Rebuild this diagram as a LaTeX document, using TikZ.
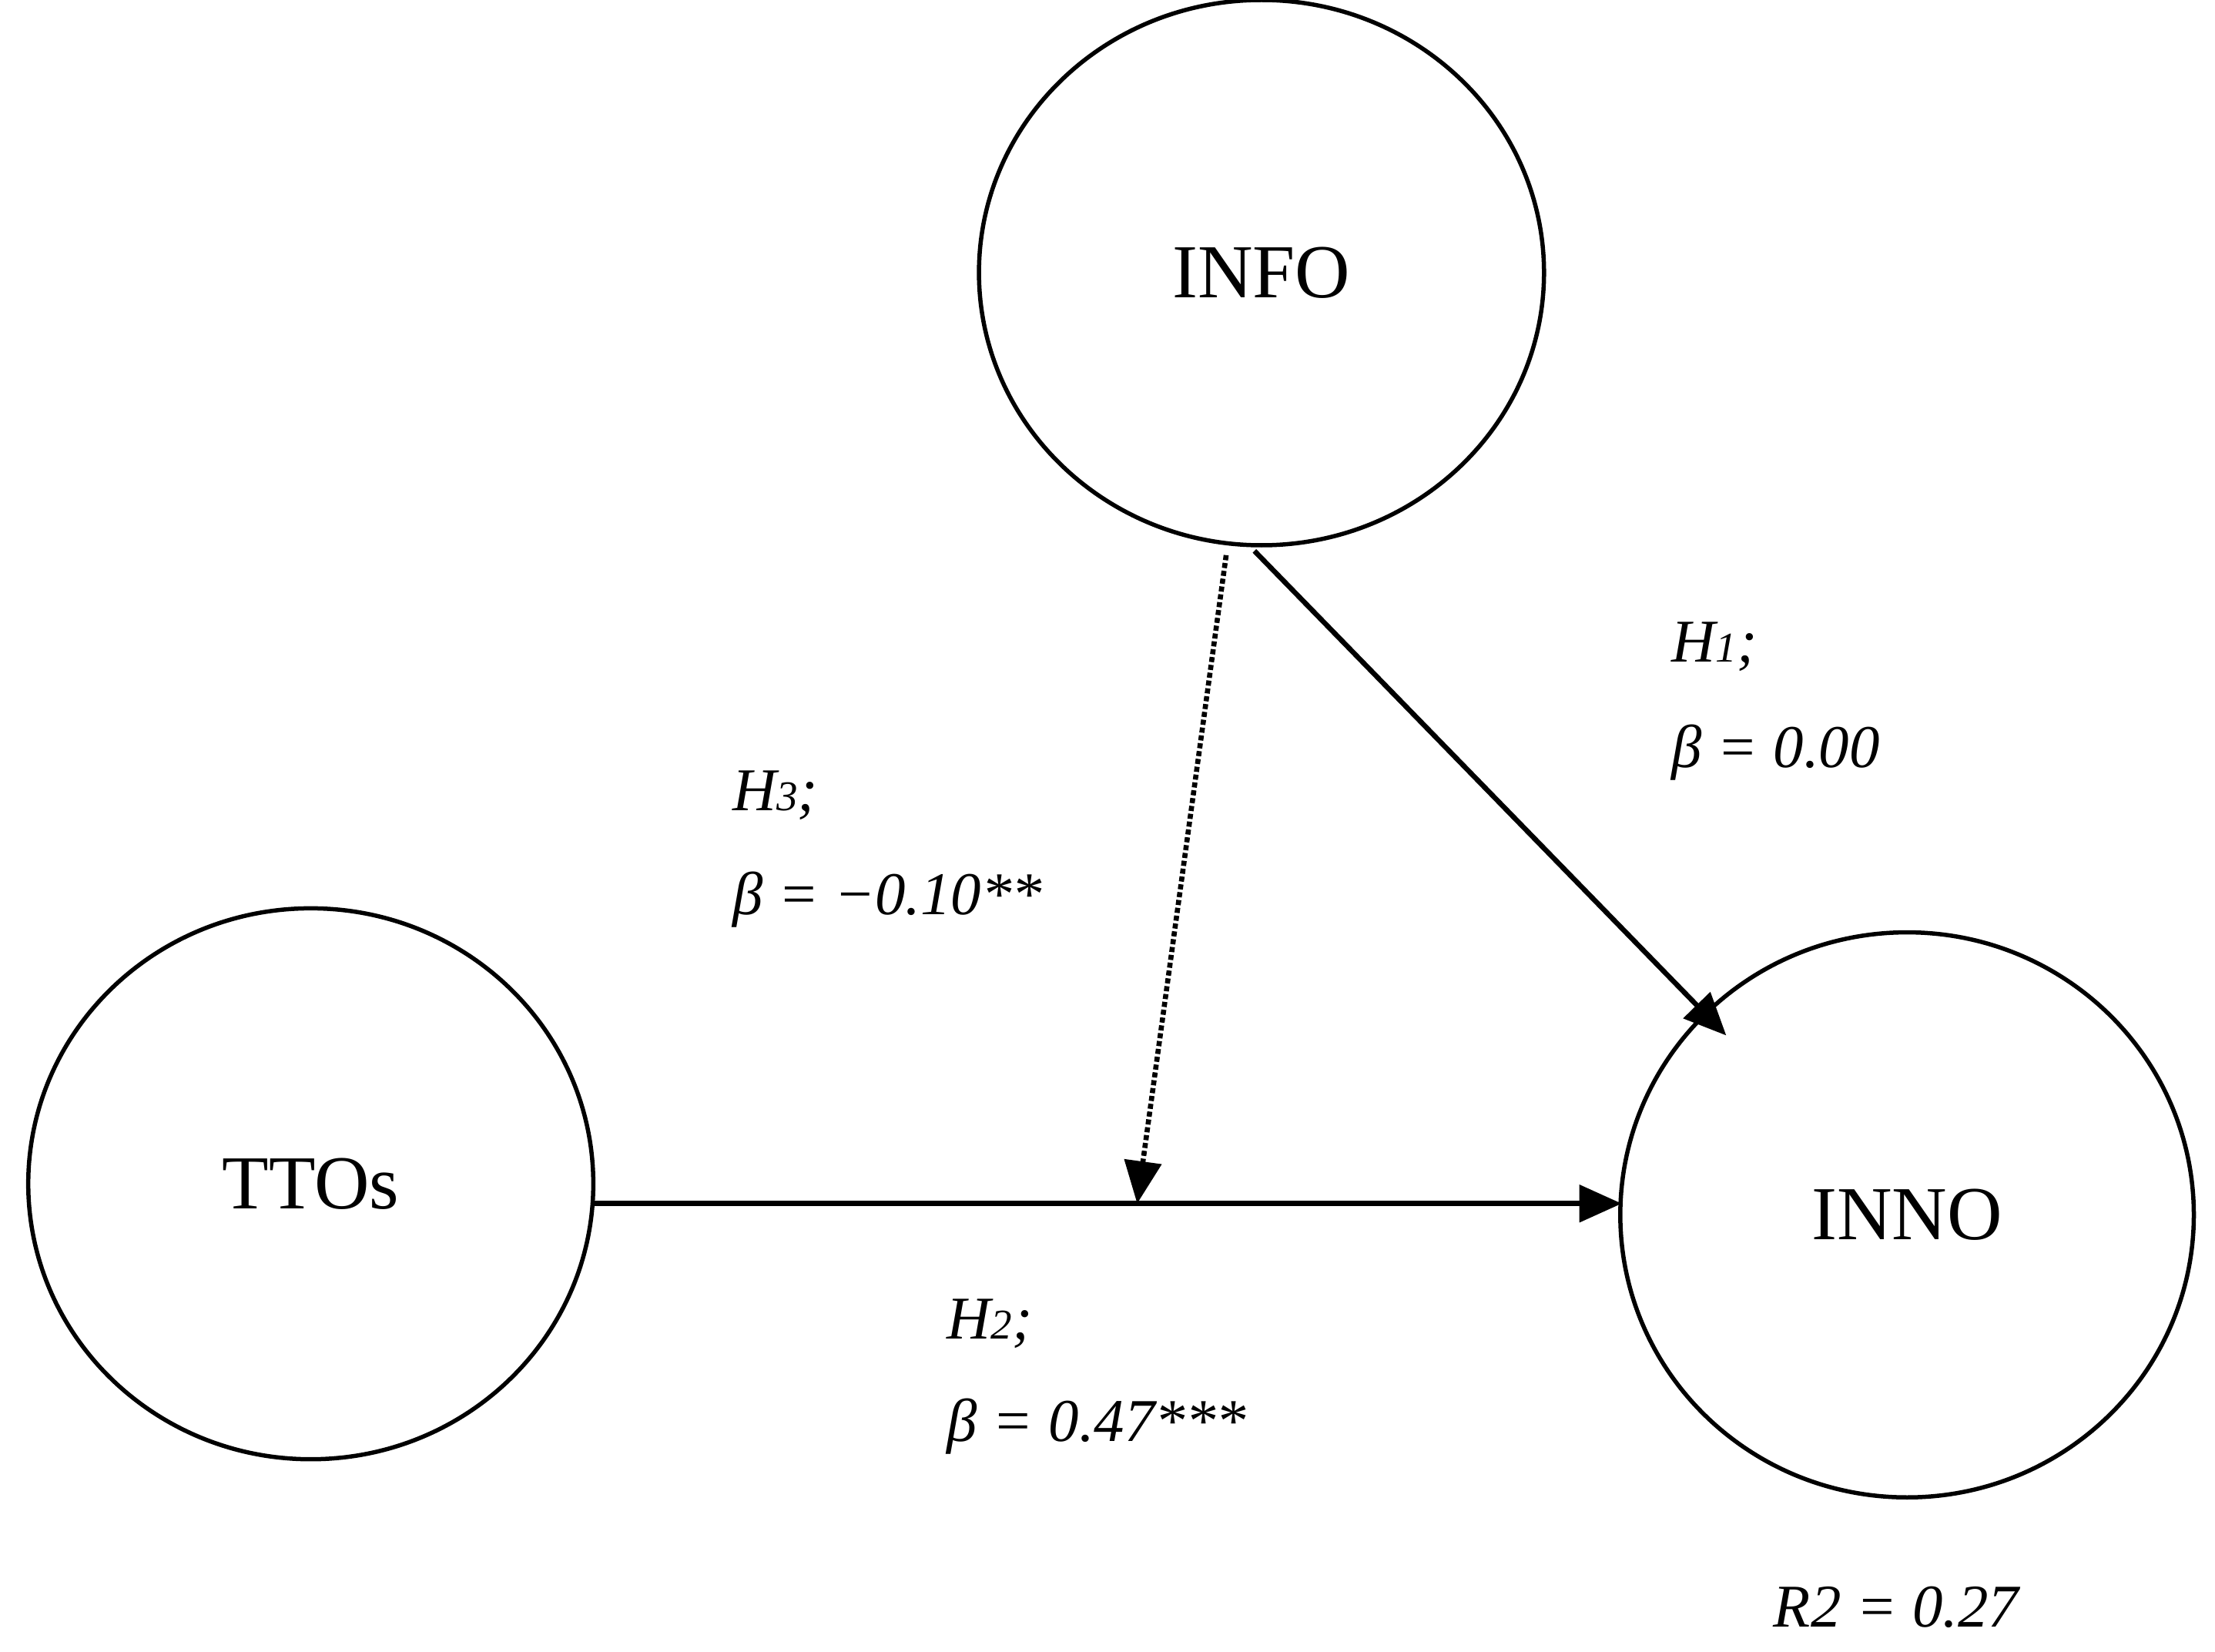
\documentclass[tikz,border=0pt]{standalone}
\usepackage{fontspec}
\setmainfont{Liberation Serif}
\usetikzlibrary{arrows.meta}
\begin{document}
\begin{tikzpicture}[x=1pt,y=-1pt,
  lbl/.style={anchor=west,font=\fontsize{43}{46}\selectfont\itshape},
  arr/.style={line width=3.6pt,-{Triangle[length=30pt,width=26pt]}}]
\useasboundingbox (0,0) rectangle (1568,1169);
\draw[line width=3pt] (893,193) ellipse (200 and 193);
\node (info) at (893,193) {\fontsize{54}{58}\selectfont INFO};
\draw[line width=3pt] (220,838) ellipse (200 and 195);
\node (ttos) at (220,838) {\fontsize{54}{58}\selectfont TTOs};
\draw[line width=3pt] (1350,860) ellipse (203 and 200);
\node (inno) at (1350,860) {\fontsize{54}{58}\selectfont INNO};
\coordinate (a1) at (888,390); \coordinate (b1) at (1222,733);
\coordinate (a2) at (420,852); \coordinate (b2) at (1148,852);
\coordinate (a3) at (868,393); \coordinate (b3) at (805,852);
\draw[arr] (a1) -- (b1);
\draw[arr] (a2) -- (b2);
\draw[arr,dotted,line width=3.6pt] (a3) -- (b3);
\node[lbl] (h1) at (1180,458) {H{\fontsize{30}{32}\selectfont 1};};
\node[lbl] (b1l) at (1180,533) {β = 0.00};
\node[lbl] (h3) at (515,563) {H{\fontsize{30}{32}\selectfont 3};};
\node[lbl] (b3l) at (515,637) {β = −0.10**};
\node[lbl] (h2) at (667,937) {H{\fontsize{30}{32}\selectfont 2};};
\node[lbl] (b2l) at (667,1010) {β = 0.47***};
\node[lbl] (r2) at (1252,1138) {R2 = 0.27};
\end{tikzpicture}
\end{document}
